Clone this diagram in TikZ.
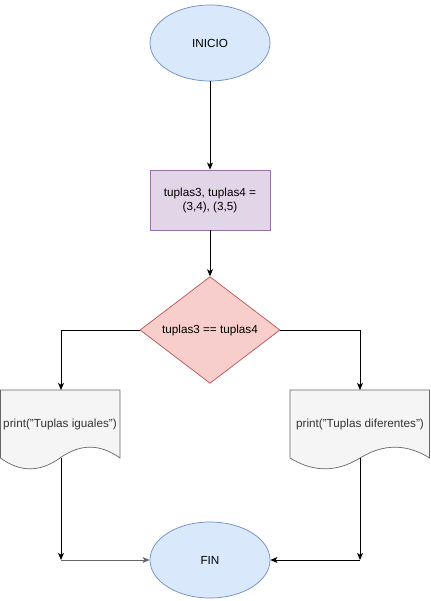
\documentclass[tikz,border=0pt]{standalone}
\usepackage{fontspec}
\setmainfont{Liberation Sans}
\usepackage{xcolor}
\usepackage{tikz}
\usetikzlibrary{arrows.meta,positioning,shapes.geometric}

\definecolor{bluefill}{HTML}{DAE8FC}
\definecolor{bluedraw}{HTML}{6C8EBF}
\definecolor{purplefill}{HTML}{E1D5E7}
\definecolor{purpledraw}{HTML}{9673A6}
\definecolor{redfill}{HTML}{F8CECC}
\definecolor{reddraw}{HTML}{B85450}
\definecolor{greyfill}{HTML}{F5F5F5}
\definecolor{greydraw}{HTML}{666666}
\definecolor{greytext}{HTML}{333333}

\begin{document}
\begin{tikzpicture}[x=0.03cm, y=-0.03cm, font=\fontsize{10}{12}\selectfont,
  terminal/.style={ellipse, draw=bluedraw, fill=bluefill, line width=0.6pt,
    minimum width=3.6cm, minimum height=2.28cm, inner sep=0pt},
  process/.style={rectangle, draw=purpledraw, fill=purplefill, line width=0.6pt,
    minimum width=3.6cm, minimum height=1.8cm, align=center},
  decision/.style={diamond, draw=reddraw, fill=redfill, line width=0.6pt,
    minimum width=4.2cm, minimum height=3cm, inner sep=0pt},
  docshape/.style={draw=greydraw, fill=greyfill, line width=0.6pt},
  flow/.style={-{Stealth[length=6pt,width=5pt,inset=1.5pt]}, line width=0.6pt}]
\useasboundingbox (0,0) rectangle (431,601);

\node[terminal] (inicio) at (210,43) {INICIO};
\node[process] (asignar) at (210,200) {tuplas3, tuplas4 =\\(3,4), (3,5)};
\node[decision] (comparar) at (210,330) {tuplas3 == tuplas4};
\node[terminal] (fin) at (210,560) {FIN};

% documentos de salida
\draw[docshape] (0.5,390) -- (120,390) -- (120,458)
  .. controls (100,443.6) and (80,443.6) .. (60,458)
  .. controls (40,472.4) and (20,472.4) .. (0.5,458) -- cycle;
\draw[docshape] (290,390) -- (429.5,390) -- (429.5,458)
  .. controls (406.67,443.6) and (383.33,443.6) .. (360,458)
  .. controls (336.67,472.4) and (313.33,472.4) .. (290,458) -- cycle;
\node[text=greytext] (iguales) at (60,424) {print("Tuplas iguales")};
\node[text=greytext] (diferentes) at (360,424) {print("Tuplas diferentes")};

\coordinate (igualesT) at (61,390);
\coordinate (igualesB) at (61,458);
\coordinate (diferentesT) at (360,390);
\coordinate (diferentesB) at (360,458);
\coordinate (unirL) at (61,560);
\coordinate (unirR) at (360,560);

\draw[flow] (inicio) -- (asignar);
\draw[flow] (asignar) -- (comparar);
\draw[flow] (comparar.west) -| (igualesT);
\draw[flow] (comparar.east) -| (diferentesT);
\draw[flow] (igualesB) -- (unirL);
\draw[flow] (diferentesB) -- (unirR);
\draw[flow, greydraw] (unirL) -- (fin.west);
\draw[flow] (unirR) -- (fin.east);
\end{tikzpicture}
\end{document}
